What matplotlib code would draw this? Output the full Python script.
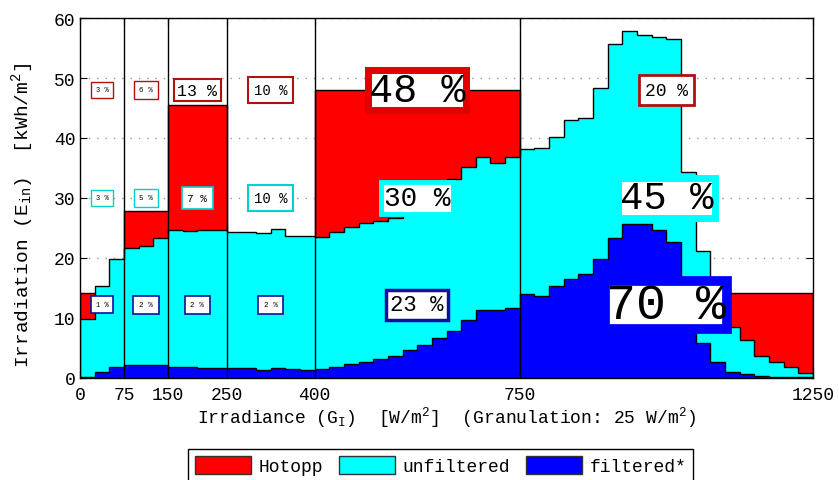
import numpy as np
import matplotlib
matplotlib.use("Agg")
import matplotlib.pyplot as plt
from matplotlib.patches import Patch

plt.rcParams['font.family'] = ['Liberation Mono', 'DejaVu Sans Mono']
plt.rcParams['mathtext.fontset'] = 'custom'
plt.rcParams['mathtext.rm'] = 'Liberation Mono'
plt.rcParams['mathtext.it'] = 'Liberation Mono'
plt.rcParams['mathtext.bf'] = 'Liberation Mono:bold'

# ---------------- data ----------------
granulation = 25
bin_edges = np.arange(0, 1250 + granulation, granulation)

unfiltered = [9.8, 15.4, 19.8, 21.6, 22.0, 23.4, 24.6, 24.5, 24.7, 24.7,
              24.4, 24.3, 24.2, 24.8, 23.6, 23.6,
              23.5, 24.3, 25.1, 25.9, 26.1, 26.7, 28.5, 30.0, 31.7, 33.2,
              35.1, 36.8, 35.9, 36.9,
              38.2, 38.4, 40.1, 43.0, 43.4, 48.4, 55.7, 57.9, 57.2, 56.8,
              56.5, 34.3, 21.2, 12.0, 8.5, 6.4, 3.7, 2.6, 1.8, 0.9]

filtered = [0.1, 1.05, 1.9, 2.2, 2.15, 2.1, 1.9, 1.85, 1.7, 1.6,
            1.6, 1.7, 1.4, 1.6, 1.45, 1.35,
            1.5, 1.9, 2.3, 2.7, 3.2, 3.7, 4.6, 5.5, 6.6, 7.9,
            9.6, 11.4, 11.3, 11.6,
            14.0, 13.7, 15.3, 16.5, 17.3, 19.9, 23.3, 25.7, 25.7, 24.6,
            22.7, 15.0, 5.8, 2.6, 1.0, 0.7, 0.35, 0.25, 0.15, 0.1]

region_edges = [0, 75, 150, 250, 400, 750, 1250]
hotopp = [14.2, 27.9, 45.5, 22.0, 48.0, 14.2]

hotopp_pct = ['3 %', '6 %', '13 %', '10 %', '48 %', '20 %']
unfiltered_pct = ['3 %', '5 %', '7 %', '10 %', '30 %', '45 %']
filtered_pct = ['1 %', '2 %', '2 %', '2 %', '23 %', '70 %']

xtick_labels = ['0', '75', '150', '250', '400', '750', '1250']

# ---------------- figure ----------------
fig = plt.figure(figsize=(8.39, 4.81), dpi=100)
ax = fig.add_axes([80 / 839, 102 / 481, 733 / 839, 360 / 481])

RED, CYAN, BLUE = '#ff0000', '#00ffff', '#0000ff'

ax.stairs(hotopp, region_edges, fill=True, facecolor=RED, edgecolor='black',
          linewidth=1.0, zorder=1)
ax.stairs(unfiltered, bin_edges, fill=True, facecolor=CYAN, edgecolor='black',
          linewidth=1.0, zorder=2)
ax.stairs(filtered, bin_edges, fill=True, facecolor=BLUE, edgecolor='black',
          linewidth=1.0, zorder=3)

for xb in region_edges[1:-1]:
    ax.axvline(xb, color='black', lw=1.0, zorder=4)

centers = [(a + b) / 2 for a, b in zip(region_edges[:-1], region_edges[1:])]

def label(txt, x, y, fs, ec, lw, pad):
    ax.text(x, y, txt, fontsize=fs, ha='center', va='center', zorder=6,
            family=['Liberation Mono', 'DejaVu Sans Mono'], color='black',
            bbox=dict(boxstyle='square,pad=%g' % pad, fc='white', ec=ec, lw=lw))

# Hotopp row
h_fs = [5, 5.5, 12, 10, 29, 13]
h_lw = [1.0, 1.0, 1.5, 1.5, 5, 2]
h_pad = [0.7, 0.7, 0.22, 0.4, 0.02, 0.35]
h_ec = ['#b01010'] * 4 + ['#e00000', '#b01010']
for t, c, fs, lw, pd, ec in zip(hotopp_pct, centers, h_fs, h_lw, h_pad, h_ec):
    label(t, c, 48, fs, ec, lw, pd)

# unfiltered row
u_fs = [5, 5.5, 8, 10, 20, 28]
u_lw = [1.0, 1.0, 1.2, 1.5, 3.5, 5]
u_pad = [0.7, 0.7, 0.5, 0.4, 0.1, 0.05]
u_ec = ['#00d0d0'] * 4 + [CYAN, CYAN]
for t, c, fs, lw, pd, ec in zip(unfiltered_pct, centers, u_fs, u_lw, u_pad, u_ec):
    label(t, c, 30, fs, ec, lw, pd)

# filtered row
f_fs = [5, 5.5, 5.5, 5.5, 16, 36]
f_lw = [1.2, 1.2, 1.2, 1.2, 2.5, 7]
f_pad = [0.7, 0.75, 0.75, 0.75, 0.2, 0.02]
f_ec = ['#10109a'] * 5 + [BLUE]
for t, c, fs, lw, pd, ec in zip(filtered_pct, centers, f_fs, f_lw, f_pad, f_ec):
    label(t, c, 12.2, fs, ec, lw, pd)

# axes styling
ax.set_xlim(0, 1250)
ax.set_ylim(0, 60)
ax.set_xticks(region_edges)
ax.set_xticklabels(xtick_labels)
ax.set_yticks(np.arange(0, 61, 10))
ax.tick_params(direction='in', length=5, labelsize=13, top=True, right=True,
               colors='black')
ax.tick_params(axis='x', pad=6)
ax.set_axisbelow(True)
ax.yaxis.grid(True, linestyle=(0, (1, 5)), color='#999999', lw=1.0)
for s in ax.spines.values():
    s.set_linewidth(1.0)
    s.set_color('black')
    s.set_zorder(7)

ax.set_xlabel(r'Irradiance (G$_\mathrm{I}$)  [W/m$^\mathrm{2}$]  (Granulation: 25 W/m$^\mathrm{2}$)',
              fontsize=13, labelpad=1)
ax.set_ylabel(r'Irradiation (E$_\mathrm{in}$)  [kWh/m$^\mathrm{2}$]', fontsize=14)
ax.yaxis.set_label_coords(-0.06, 0.455)

handles = [Patch(facecolor=RED, edgecolor='#333333', label='Hotopp'),
           Patch(facecolor=CYAN, edgecolor='#333333', label='unfiltered'),
           Patch(facecolor=BLUE, edgecolor='#333333', label='filtered*')]
leg = fig.legend(handles=handles, loc='upper left',
                 bbox_to_anchor=(188 / 839, 1 - 450 / 481), ncol=3, fontsize=13,
                 frameon=True, fancybox=False, edgecolor='black', framealpha=1,
                 handlelength=3.1, handleheight=1.1, handletextpad=0.4,
                 columnspacing=0.9, borderpad=0.4, borderaxespad=0)
leg.get_frame().set_linewidth(1.0)

fig.savefig('out.png', dpi=100)
